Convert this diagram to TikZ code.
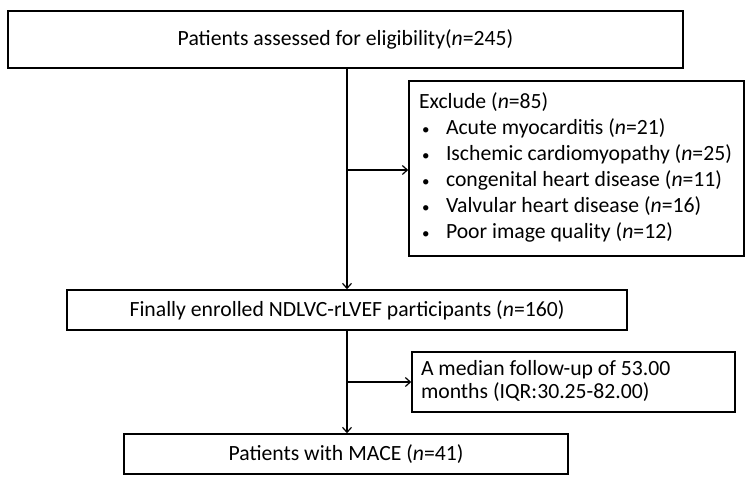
\documentclass[tikz,border=0pt]{standalone}
\usepackage{fontspec}
\setmainfont{Carlito}
\usetikzlibrary{arrows.meta}
\newcommand{\bul}{\makebox[27pt][l]{\hspace{3pt}{\fontsize{15}{15}\selectfont•}}}
\begin{document}
\begin{tikzpicture}[x=1pt,y=-1pt,
  box/.style={draw,line width=1.6pt,inner sep=0pt,font=\fontsize{21.7}{23}\selectfont},
  conn/.style={line width=1.2pt},
  arr/.style={conn,-{Straight Barb[length=5pt,width=9pt,line width=1.2pt]}}]
\useasboundingbox (0,0) rectangle (752,483);
\node[box,minimum width=675pt,minimum height=57pt] (top) at (345.5,39.5) {Patients assessed for eligibility(\textit{n}=245)};
\node[box,minimum width=335pt,minimum height=175pt,font=\fontsize{21.7}{26}\selectfont] (excl) at (576.5,168.5)
  {\makebox[315pt][l]{\begin{tabular}{@{}l@{}}
   Exclude (\textit{n}=85)\\
   \bul Acute myocarditis (\textit{n}=21)\\
   \bul Ischemic cardiomyopathy (\textit{n}=25)\\
   \bul congenital heart disease (\textit{n}=11)\\
   \bul Valvular heart disease (\textit{n}=16)\\
   \bul Poor image quality (\textit{n}=12)
   \end{tabular}}};
\node[box,minimum width=560pt,minimum height=40pt] (mid) at (347,310) {Finally enrolled NDLVC-rLVEF participants (\textit{n}=160)};
\node[box,minimum width=323pt,minimum height=60pt] (fu) at (573.5,382)
  {\makebox[305pt][l]{\begin{tabular}{@{}l@{}}A median follow-up of 53.00\\months (IQR:30.25-82.00)\end{tabular}}};
\node[box,minimum width=444pt,minimum height=40pt] (mace) at (346,454) {Patients with MACE (\textit{n}=41)};
\coordinate (j1) at (347,170);
\coordinate (j2) at (347,382);
\draw[arr] (top.south -| mid.north) -- (mid.north);
\draw[arr] (j1) -- (excl.west |- j1);
\draw[arr] (mid.south) -- (mid.south |- mace.north);
\draw[arr] (j2) -- (fu.west |- j2);
\end{tikzpicture}
\end{document}
